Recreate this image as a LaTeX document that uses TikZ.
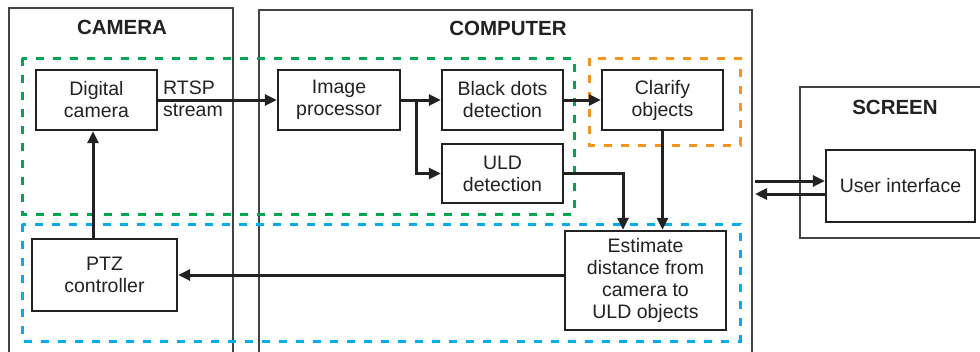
\documentclass[tikz,border=0pt]{standalone}
\usepackage{fontspec}
\setmainfont{Liberation Sans}
\usetikzlibrary{arrows.meta,calc}
\definecolor{ink}{HTML}{222222}
\definecolor{gdash}{HTML}{00A651}
\definecolor{odash}{HTML}{F7941D}
\definecolor{bdash}{HTML}{00AEEF}
\tikzset{
  outer/.style={draw=ink!85, line width=1.5pt},
  blk/.style={draw=ink, line width=2.4pt, align=center, text=ink, inner sep=0pt,
    font=\fontsize{19.5}{22}\selectfont},
  ttl/.style={text=ink, font=\bfseries\fontsize{20.5}{24}\selectfont},
  arr/.style={draw=ink, line width=3pt, -{Triangle[length=12pt,width=11pt]}},
  grp/.style={line width=3pt, dash pattern=on 8pt off 9pt},
}
\begin{document}
\begin{tikzpicture}[x=1pt,y=-1pt]
\useasboundingbox (0,0) rectangle (980,351);
\clip (0,0) rectangle (980,351);
\fill[white] (0,0) rectangle (980,351);
% outer frames
\draw[outer] (9,400) -- (9,8) -- (233,8) -- (233,400);
\draw[outer] (259,400) -- (259,10) -- (752,10) -- (752,400);
\draw[outer] (1000,238) -- (800,238) -- (800,87) -- (1000,87);
\node[ttl] (tcam) at (122,27) {CAMERA};
\node[ttl] (tcomp) at (508,28) {COMPUTER};
\node[ttl] (tscr) at (895,107) {SCREEN};
% dashed groups
\draw[grp, gdash] (22,58) rectangle (574,214);
\draw[grp, odash] (589,58) rectangle (740,145);
\draw[grp, bdash] (22,224) rectangle (740,341);
% blocks
\node[blk, minimum width=121pt, minimum height=60pt] (dc) at (96.5,100) {Digital\\camera};
\node[blk, minimum width=122pt, minimum height=60pt] (ip) at (339,100) {Image\\processor};
\node[blk, minimum width=121pt, minimum height=60pt] (bd) at (502.5,100) {Black dots\\detection};
\node[blk, minimum width=121pt, minimum height=59pt] (uld) at (502.5,173.5) {ULD\\detection};
\node[blk, minimum width=121pt, minimum height=60pt] (cl) at (662.5,100) {Clarify\\objects};
\node[blk, minimum width=161pt, minimum height=99pt] (est) at (645.5,280.5) {Estimate\\distance from\\camera to\\ULD objects};
\node[blk, minimum width=145pt, minimum height=72pt] (ptz) at (104.5,275) {PTZ\\controller};
\node[blk, minimum width=149pt, minimum height=72pt] (ui) at (900.5,186) {User interface};
\node[text=ink, align=left, font=\fontsize{19.5}{22}\selectfont, inner sep=0pt, anchor=west] (rtsp) at (163,99) {RTSP\\stream};
% connectors
\coordinate (br) at (416,100);
\coordinate (px) at (93,0);
\coordinate (ux) at (623,0);
\coordinate (sl) at (755,0);
\coordinate (u1) at ($(ui.west)+(0,-5)$);
\coordinate (u2) at ($(ui.west)+(0,8)$);
\draw[arr] (dc.east) -- (ip.west);
\draw[arr] (ip.east) -- (bd.west);
\draw[arr] (br) |- (uld.west);
\draw[arr] (bd.east) -- (cl.west);
\draw[arr] (uld.east) -| (est.north -| ux);
\draw[arr] (cl.south) -- (est.north -| cl.south);
\draw[arr] (est.west |- ptz.east) -- (ptz.east);
\draw[arr] (ptz.north -| px) -- (dc.south -| px);
\draw[arr] (u1 -| sl) -- (u1);
\draw[arr] (u2) -- (u2 -| sl);
\end{tikzpicture}
\end{document}
